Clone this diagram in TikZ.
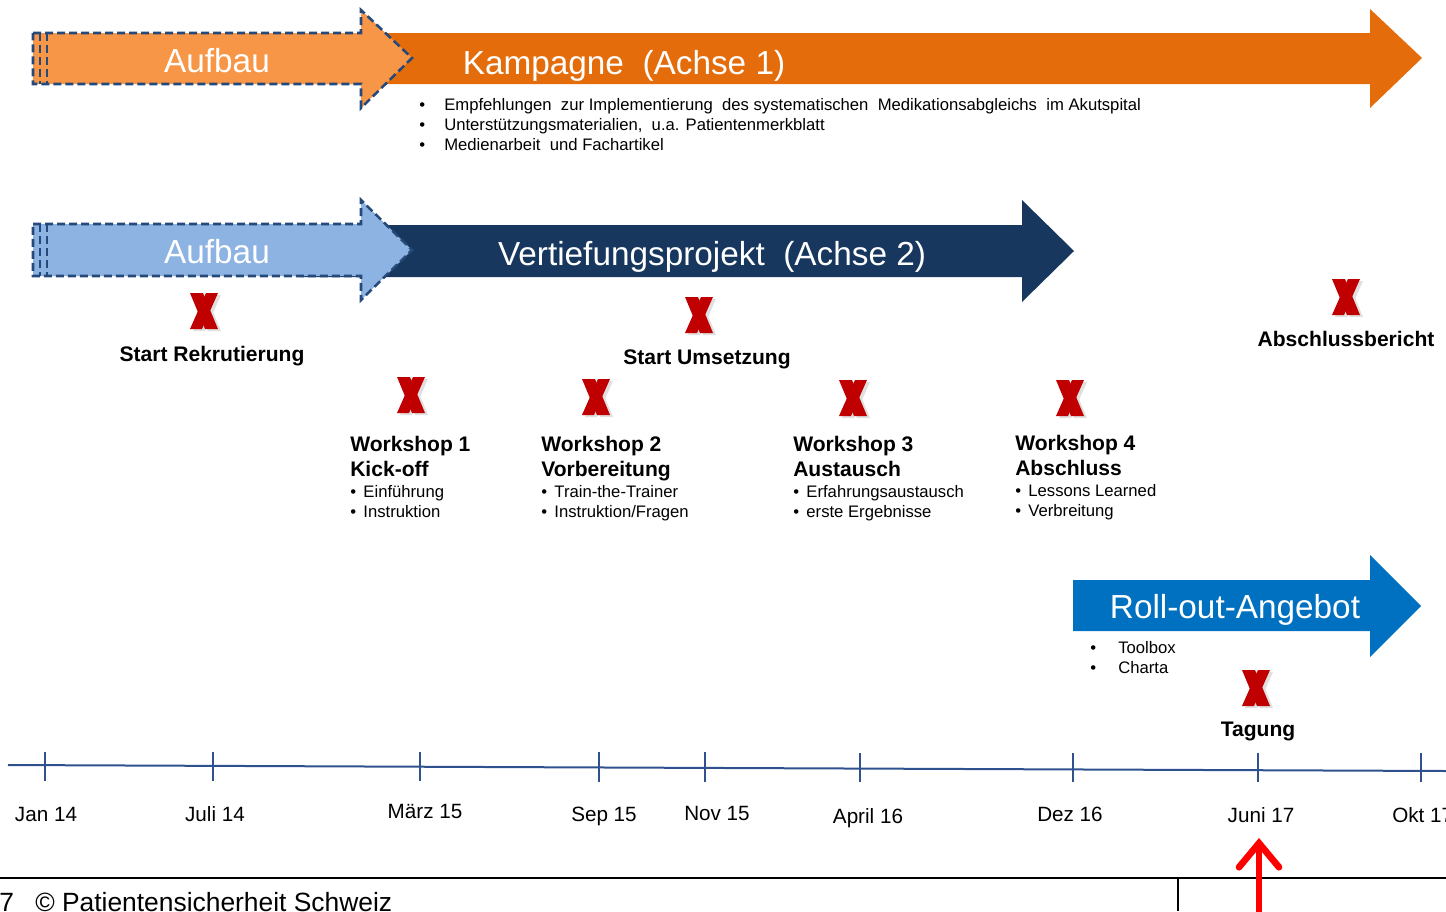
\documentclass[tikz,border=0pt]{standalone}
\usepackage{fontspec}
\setmainfont{Liberation Sans}
\usetikzlibrary{arrows.meta}

\definecolor{orhell}{HTML}{F79646}
\definecolor{ordunkel}{HTML}{E46C0A}
\definecolor{blauhell}{HTML}{8DB3E2}
\definecolor{navy}{HTML}{17375E}
\definecolor{rollblau}{HTML}{0070C0}
\definecolor{randblau}{HTML}{24497A}
\definecolor{xrot}{HTML}{C00000}
\definecolor{achsblau}{HTML}{2F528F}

\tikzstyle{aufbau}=[draw=randblau, line width=1.9pt, dash pattern=on 6pt off 3pt]
\tikzstyle{titel}=[text=white, inner sep=0, anchor=base, font=\fontsize{25}{30}\selectfont]
\tikzstyle{marke}=[inner sep=0, anchor=base, font=\bfseries\fontsize{15.8}{19}\selectfont]
\tikzstyle{ws}=[marke, anchor=base west]
\tikzstyle{punkt}=[inner sep=0, anchor=base west, font=\fontsize{12.5}{15}\selectfont]
\tikzstyle{achse}=[inner sep=0, anchor=base, font=\fontsize{15.5}{18}\selectfont]

\tikzset{kreuz/.pic={
    \fill[black!12, shift={(3,2)}] (-14,-18) -- (-1,-18) -- (14,18) -- (1,18) -- cycle;
    \fill[black!12, shift={(3,2)}] (14,-18) -- (2,-18) -- (-14,18) -- (-2,18) -- cycle;
    \fill[xrot] (-14,-18) -- (-1,-18) -- (14,18) -- (1,18) -- cycle;
    \fill[xrot] (14,-18) -- (2,-18) -- (-14,18) -- (-2,18) -- cycle;
}}

\begin{document}
\begin{tikzpicture}[x=0.75pt, y=-0.75pt]
    \useasboundingbox (0,0) rectangle (1446,911);

    % Achse 1
    \fill[ordunkel] (300,33) -- (1370,33) -- (1370,9) -- (1422,58) -- (1370,108) -- (1370,84) -- (300,84) -- cycle;
    \fill[orhell] (33,33) -- (361,33) -- (361,10) -- (412,58) -- (361,108) -- (361,84) -- (33,84) -- cycle;
    \draw[aufbau] (33,33) -- (361,33) -- (361,10) -- (412,58) -- (361,108) -- (361,84) -- (33,84) -- cycle;
    \draw[aufbau] (40,33) -- (40,84);
    \draw[aufbau] (47,33) -- (47,84);
    \node[titel] (auf1) at (217,72) {Aufbau};
    \node[titel] (kamp) at (624,74) {Kampagne\ \ (Achse 1)};
    \node[punkt] (k1) at (419,110) {\makebox[18.75pt][l]{\textbullet}Empfehlungen\ \ zur Implementierung\ \ des systematischen\ \ Medikationsabgleichs\ \ im Akutspital};
    \node[punkt] (k2) at (419,130) {\makebox[18.75pt][l]{\textbullet}Unterstützungsmaterialien,\ \ u.a. Patientenmerkblatt};
    \node[punkt] (k3) at (419,150) {\makebox[18.75pt][l]{\textbullet}Medienarbeit\ \ und Fachartikel};

    % Achse 2
    \fill[navy] (300,225) -- (1022,225) -- (1022,200) -- (1074,251) -- (1022,302) -- (1022,277) -- (300,277) -- cycle;
    \fill[blauhell] (33,224) -- (361,224) -- (361,200) -- (412,250) -- (361,300) -- (361,276) -- (33,276) -- cycle;
    \draw[aufbau] (33,224) -- (361,224) -- (361,200) -- (412,250) -- (361,300) -- (361,276) -- (33,276) -- cycle;
    \draw[aufbau] (40,224) -- (40,276);
    \draw[aufbau] (47,224) -- (47,276);
    \node[titel] (auf2) at (217,263) {Aufbau};
    \node[titel] (vert) at (712,265) {Vertiefungsprojekt\ \ (Achse 2)};

    % Meilensteine
    \pic (m1) at (204,311) {kreuz};
    \node[marke] (rekr) at (212,361) {Start Rekrutierung};
    \pic (m2) at (699,315) {kreuz};
    \node[marke] (ums) at (707,364) {Start Umsetzung};
    \pic (m3) at (1346,297) {kreuz};
    \node[marke] (ber) at (1346,346) {Abschlussbericht};

    \pic (w1) at (411,395) {kreuz};
    \node[ws] (ws1) at (350,451) {Workshop 1};
    \node[ws] (ws1b) at (350,476) {Kick-off};
    \node[punkt] (ws1c) at (350,497) {\textbullet\hspace{5.5pt}Einführung};
    \node[punkt] (ws1d) at (350,517) {\textbullet\hspace{5.5pt}Instruktion};

    \pic (w2) at (596,397) {kreuz};
    \node[ws] (ws2) at (541,451) {Workshop 2};
    \node[ws] (ws2b) at (541,476) {Vorbereitung};
    \node[punkt] (ws2c) at (541,497) {\textbullet\hspace{5.5pt}Train-the-Trainer};
    \node[punkt] (ws2d) at (541,517) {\textbullet\hspace{5.5pt}Instruktion/Fragen};

    \pic (w3) at (853,398) {kreuz};
    \node[ws] (ws3) at (793,451) {Workshop 3};
    \node[ws] (ws3b) at (793,476) {Austausch};
    \node[punkt] (ws3c) at (793,497) {\textbullet\hspace{5.5pt}Erfahrungsaustausch};
    \node[punkt] (ws3d) at (793,517) {\textbullet\hspace{5.5pt}erste Ergebnisse};

    \pic (w4) at (1070,398) {kreuz};
    \node[ws] (ws4) at (1015,450) {Workshop 4};
    \node[ws] (ws4b) at (1015,475) {Abschluss};
    \node[punkt] (ws4c) at (1015,496) {\textbullet\hspace{5.5pt}Lessons Learned};
    \node[punkt] (ws4d) at (1015,516) {\textbullet\hspace{5.5pt}Verbreitung};

    % Roll-out
    \fill[rollblau] (1073,580) -- (1370,580) -- (1370,555) -- (1421,606) -- (1370,657) -- (1370,631) -- (1073,631) -- cycle;
    \node[titel] (roll) at (1235,618) {Roll-out-Angebot};
    \node[punkt] (r1) at (1090,653) {\makebox[21pt][l]{\textbullet}Toolbox};
    \node[punkt] (r2) at (1090,673) {\makebox[21pt][l]{\textbullet}Charta};
    \pic (m4) at (1256,688) {kreuz};
    \node[marke] (tag) at (1258,736) {Tagung};

    % Zeitachse
    \draw[achsblau, line width=1.5pt] (8,765) -- (1446,771);
    \draw[achsblau, line width=1.5pt] (45,752) -- (45,781);
    \draw[achsblau, line width=1.5pt] (213,752) -- (213,781);
    \draw[achsblau, line width=1.5pt] (420,752) -- (420,781);
    \draw[achsblau, line width=1.5pt] (599,752) -- (599,782);
    \draw[achsblau, line width=1.5pt] (705,752) -- (705,782);
    \draw[achsblau, line width=1.5pt] (860,753) -- (860,782);
    \draw[achsblau, line width=1.5pt] (1073,753) -- (1073,782);
    \draw[achsblau, line width=1.5pt] (1258,753) -- (1258,782);
    \draw[achsblau, line width=1.5pt] (1421,753) -- (1421,782);
    \node[achse] (t1) at (46,821) {Jan 14};
    \node[achse] (t2) at (215,821) {Juli 14};
    \node[achse] (t3) at (425,818) {März 15};
    \node[achse] (t4) at (604,821) {Sep 15};
    \node[achse] (t5) at (717,820) {Nov 15};
    \node[achse] (t6) at (868,823) {April 16};
    \node[achse] (t7) at (1070,821) {Dez 16};
    \node[achse] (t8) at (1261,822) {Juni 17};
    \node[achse, anchor=base west] (t9) at (1392,822) {Okt 17};

    % Fusszeile
    \draw[line width=1.5pt] (0,878) -- (1446,878);
    \draw[line width=1.5pt] (1178,878) -- (1178,911);
    \node[inner sep=0, anchor=base west, font=\fontsize{19.8}{24}\selectfont] (fuss) at (-1,911) {7\hspace{16pt}© Patientensicherheit Schweiz};

    \coordinate (pfa) at (1259,915);
    \coordinate (pfb) at (1259,838);
    \draw[red, line width=5pt, line cap=round, -{Straight Barb[length=18pt, width=30pt, line cap=round]}] (pfa) -- (pfb);
\end{tikzpicture}
\end{document}
